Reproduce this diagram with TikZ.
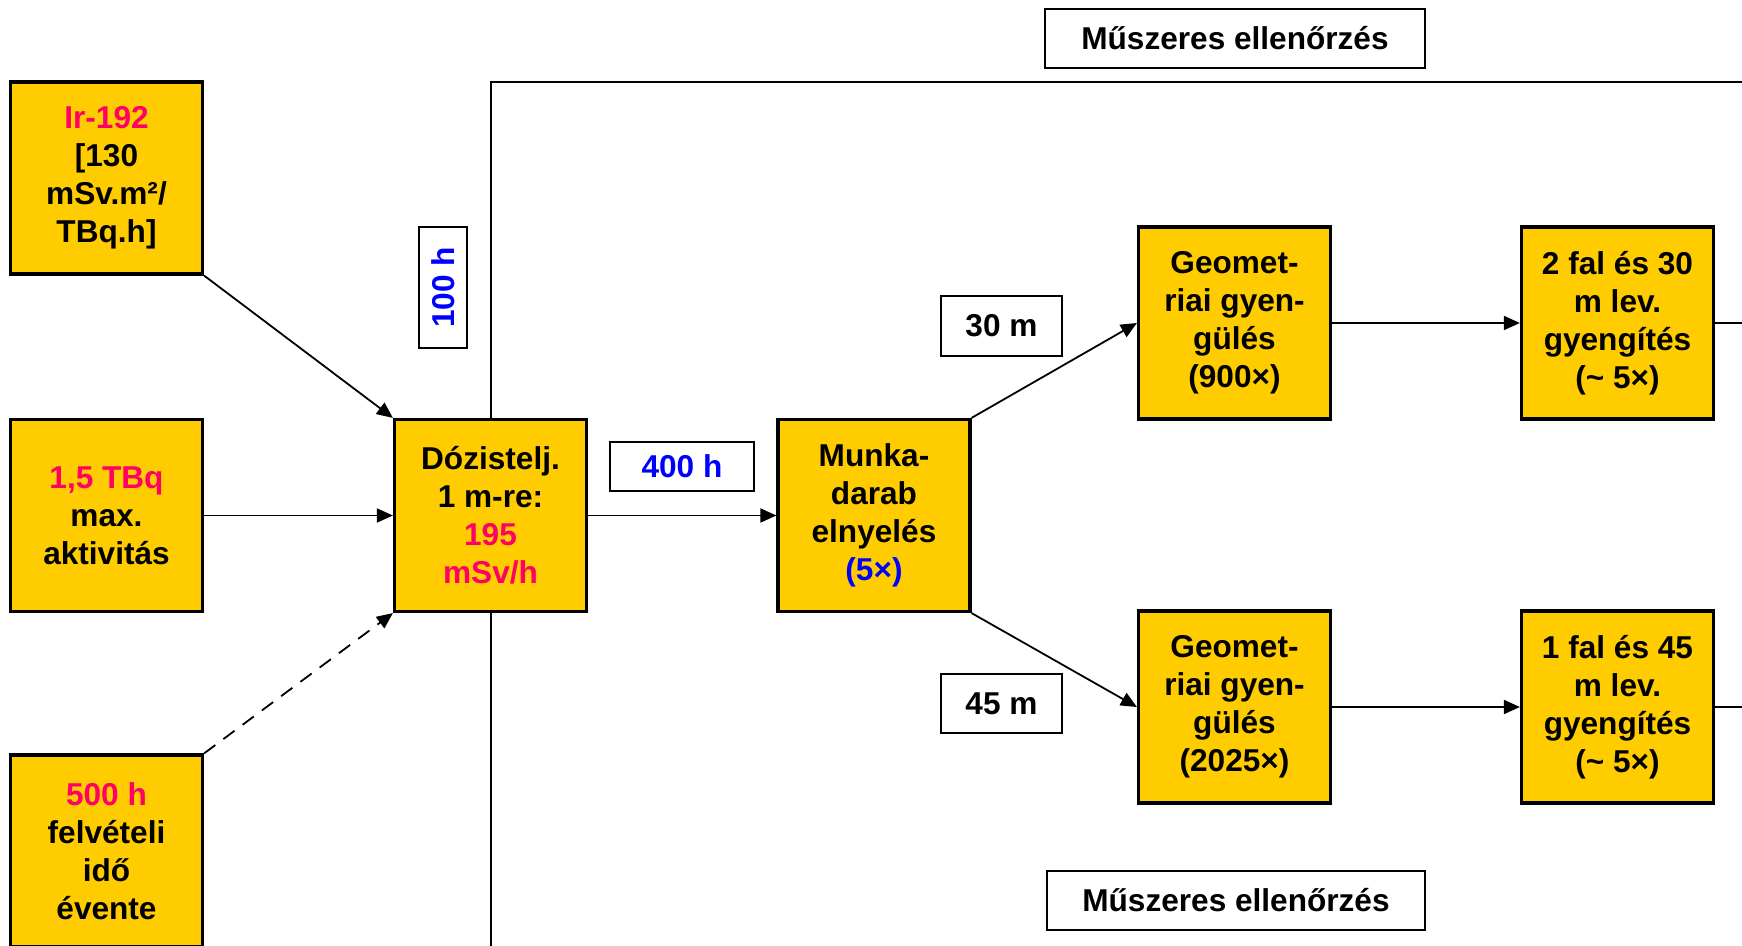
\documentclass[tikz,border=0pt]{standalone}
\usepackage{fontspec}
\setmainfont{Liberation Sans}
\usetikzlibrary{arrows.meta}
\definecolor{boxyellow}{HTML}{FFCC00}
\definecolor{hot}{HTML}{FF0066}
\definecolor{vblue}{HTML}{0000FF}
\tikzset{
  ybox/.style={draw=black, line width=1.6pt, fill=boxyellow, minimum width=96pt, minimum height=96pt,
    inner sep=2pt, align=center, font=\fontsize{15.8}{19}\selectfont\bfseries},
  lbox/.style={draw=black, line width=0.8pt, fill=white, inner sep=0pt, align=center,
    font=\fontsize{15.8}{19}\selectfont\bfseries},
  conn/.style={line width=0.9pt, -{Triangle[length=8pt,width=7pt]}},
  plain/.style={line width=0.8pt}
}
\begin{document}
\begin{tikzpicture}[x=0.5pt,y=-0.5pt]
\useasboundingbox (0,0) rectangle (1742,946);
% frame lines
\coordinate (tr) at (1742,82);
\coordinate (tl) at (491,82);
\coordinate (bl) at (491,946);
\draw[plain] (tr) -- (tl) -- (bl);

\node[ybox] (ir) at (106.5,178) {{\color{hot}Ir-192}\\{[}130\\mSv.m²/\\TBq.h]};
\node[ybox] (tbq) at (106.5,515.5) {{\color{hot}1,5 TBq}\\max.\\aktivitás};
\node[ybox] (h500) at (106.5,851) {{\color{hot}500 h}\\felvételi\\idő\\évente};
\node[ybox] (doz) at (490.5,515.5) {Dózistelj.\\1 m-re:\\{\color{hot}195}\\{\color{hot}mSv/h}};
\node[ybox] (munka) at (874,515.5) {Munka-\\darab\\elnyelés\\{\color{vblue}(5×)}};
\node[ybox] (geomA) at (1234.5,323) {Geomet-\\riai gyen-\\gülés\\(900×)};
\node[ybox] (falA) at (1617.5,323) {2 fal és 30\\m lev.\\gyengítés\\(\textasciitilde\ 5×)};
\node[ybox] (geomB) at (1234.5,707) {Geomet-\\riai gyen-\\gülés\\(2025×)};
\node[ybox] (falB) at (1617.5,707) {1 fal és 45\\m lev.\\gyengítés\\(\textasciitilde\ 5×)};

\node[lbox, minimum width=190pt, minimum height=29.5pt] (musA) at (1235,38.5) {Műszeres ellenőrzés};
\node[lbox, minimum width=189pt, minimum height=29.5pt] (musB) at (1236,900.5) {Műszeres ellenőrzés};
\node[lbox, minimum width=60.5pt, minimum height=30pt] (m30) at (1001.5,326) {30 m};
\node[lbox, minimum width=60.5pt, minimum height=29.5pt] (m45) at (1001.5,703.5) {45 m};
\node[lbox, minimum width=72pt, minimum height=24.5pt, text=vblue] (h400) at (682,466.5) {400 h};
\node[lbox, minimum width=60.5pt, minimum height=24pt, text=vblue, rotate=90] (h100) at (443,287.5) {100 h};

\draw[conn] (ir.south east) -- (doz.north west);
\draw[conn] (tbq.east) -- (doz.west);
\draw[conn, dashed, dash pattern=on 7pt off 5pt] (h500.north east) -- (doz.south west);
\draw[conn] (doz.east) -- (munka.west);
\draw[conn] (munka.north east) -- (geomA.west);
\draw[conn] (munka.south east) -- (geomB.west);
\draw[conn] (geomA.east) -- (falA.west);
\draw[conn] (geomB.east) -- (falB.west);
\coordinate (ra) at (1742,323);
\coordinate (rb) at (1742,707);
\draw[plain] (falA.east) -- (ra);
\draw[plain] (falB.east) -- (rb);
\end{tikzpicture}
\end{document}
